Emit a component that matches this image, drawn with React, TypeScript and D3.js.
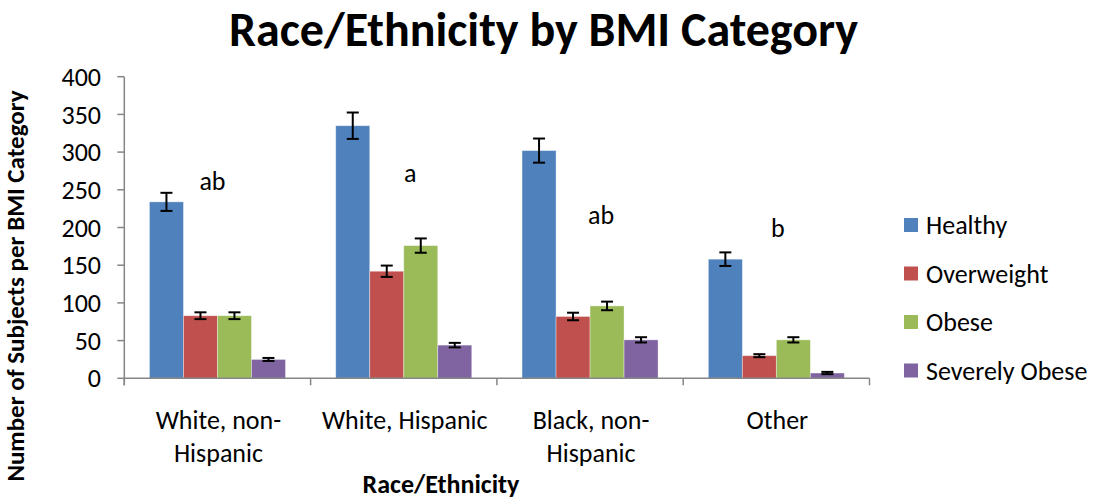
import React from "react";
import * as d3 from "d3";

const categories = [["White, non-", "Hispanic"], ["White, Hispanic"], ["Black, non-", "Hispanic"], ["Other"]];
const seriesNames = ["Healthy", "Overweight", "Obese", "Severely Obese"];
const healthy = [234, 335, 302, 158];
const overweight = [83, 142, 82, 30];
const obese = [83, 176, 96, 51];
const severelyObese = [25, 44, 51, 7];
const healthyErr = [12, 17.5, 16, 9];
const overweightErr = [4.5, 7.5, 5, 2];
const obeseErr = [4.5, 9.5, 5.7, 3.5];
const severelyObeseErr = [2, 3, 3.5, 1.5];
const letters = ["ab", "a", "ab", "b"];
const letterValues = [250, 260, 205, 187];
const yTicks = [0, 50, 100, 150, 200, 250, 300, 350, 400];
const colors = ["#4F81BD", "#C0504D", "#9BBB59", "#8064A2"];

const FONT = "Carlito, Calibri, Lato, 'Open Sans', sans-serif";

export default function App() {
  const values = [healthy, overweight, obese, severelyObese];
  const errs = [healthyErr, overweightErr, obeseErr, severelyObeseErr];
  const left = 124.3, right = 869.5, top = 76.7, bottom = 378.3;
  const x0 = d3.scaleBand<number>().domain(d3.range(categories.length)).range([left, right]).paddingInner(0).paddingOuter(0);
  const innerPad = (x0.bandwidth() - 136) / 2;
  const x1 = d3.scaleBand<number>().domain(d3.range(seriesNames.length)).range([innerPad, x0.bandwidth() - innerPad]);
  const y = d3.scaleLinear().domain([0, 400]).range([bottom, top]);
  const axisColor = "#868686";
  const capW = 6;
  return (
    <svg width={1097} height={499} style={{ position: "absolute", left: 0, top: 0, fontFamily: FONT }}>
      <rect width={1097} height={499} fill="#fff" />
      <text x={543.5} y={46} textAnchor="middle" fontSize={48} fontWeight="bold">Race/Ethnicity by BMI Category</text>
      {/* bars */}
      {values.map((vals, s) =>
        vals.map((v, c) => {
          const bx = x0(c)! + x1(s)!;
          return (
            <rect key={`b${s}-${c}`} x={bx} y={y(v)} width={x1.bandwidth()} height={bottom - y(v)} fill={colors[s]} stroke="#ffffff" strokeOpacity={0.45} strokeWidth={0.8} />
          );
        })
      )}
      {/* axes */}
      <line x1={left} x2={left} y1={top} y2={bottom + 7} stroke={axisColor} strokeWidth={1.5} />
      {yTicks.map((t) => (
        <g key={`yt${t}`}>
          <line x1={left - 7} x2={left} y1={y(t)} y2={y(t)} stroke={axisColor} strokeWidth={1.5} />
          <text x={101} y={y(t)} dy="0.35em" textAnchor="end" fontSize={26}>{t}</text>
        </g>
      ))}
      <line x1={left} x2={right} y1={bottom} y2={bottom} stroke={axisColor} strokeWidth={1.5} />
      {d3.range(categories.length + 1).map((i) => {
        const tx = i < categories.length ? x0(i)! : right;
        return <line key={`xt${i}`} x1={tx} x2={tx} y1={bottom} y2={bottom + 7} stroke={axisColor} strokeWidth={1.5} />;
      })}
      {/* error bars */}
      {values.map((vals, s) =>
        vals.map((v, c) => {
          const cx = x0(c)! + x1(s)! + x1.bandwidth() / 2;
          const e = errs[s][c];
          return (
            <g key={`e${s}-${c}`} stroke="#000" strokeWidth={2}>
              <line x1={cx} x2={cx} y1={y(v + e)} y2={y(v - e)} />
              <line x1={cx - capW} x2={cx + capW} y1={y(v + e)} y2={y(v + e)} />
              <line x1={cx - capW} x2={cx + capW} y1={y(v - e)} y2={y(v - e)} />
            </g>
          );
        })
      )}
      {/* letters */}
      {letters.map((l, c) => {
        const offs = [-5, 6.4, 11, 1.5];
        return (
          <text key={`l${c}`} x={x0(c)! + x0.bandwidth() / 2 + offs[c]} y={y(letterValues[c])} textAnchor="middle" fontSize={26}>{l}</text>
        );
      })}
      {/* category labels */}
      {categories.map((lines, c) => (
        <text key={`c${c}`} x={x0(c)! + x0.bandwidth() / 2 + 1} y={429} textAnchor="middle" fontSize={26}>
          {lines.map((ln, i) => (
            <tspan key={i} x={x0(c)! + x0.bandwidth() / 2 + 1} dy={i === 0 ? 0 : 33}>{ln}</tspan>
          ))}
        </text>
      ))}
      <text x={441} y={493} textAnchor="middle" fontSize={26} fontWeight="bold">Race/Ethnicity</text>
      <text transform="translate(24,286) rotate(-90)" textAnchor="middle" fontSize={25} fontWeight="bold">Number of Subjects per BMI Category</text>
      {/* legend */}
      {seriesNames.map((n, i) => {
        const cy = 225 + i * 48.5;
        return (
          <g key={`lg${i}`}>
            <rect x={904} y={cy - 7} width={14} height={14} fill={colors[i]} />
            <text x={926} y={cy} dy="0.35em" fontSize={26}>{n}</text>
          </g>
        );
      })}
    </svg>
  );
}
